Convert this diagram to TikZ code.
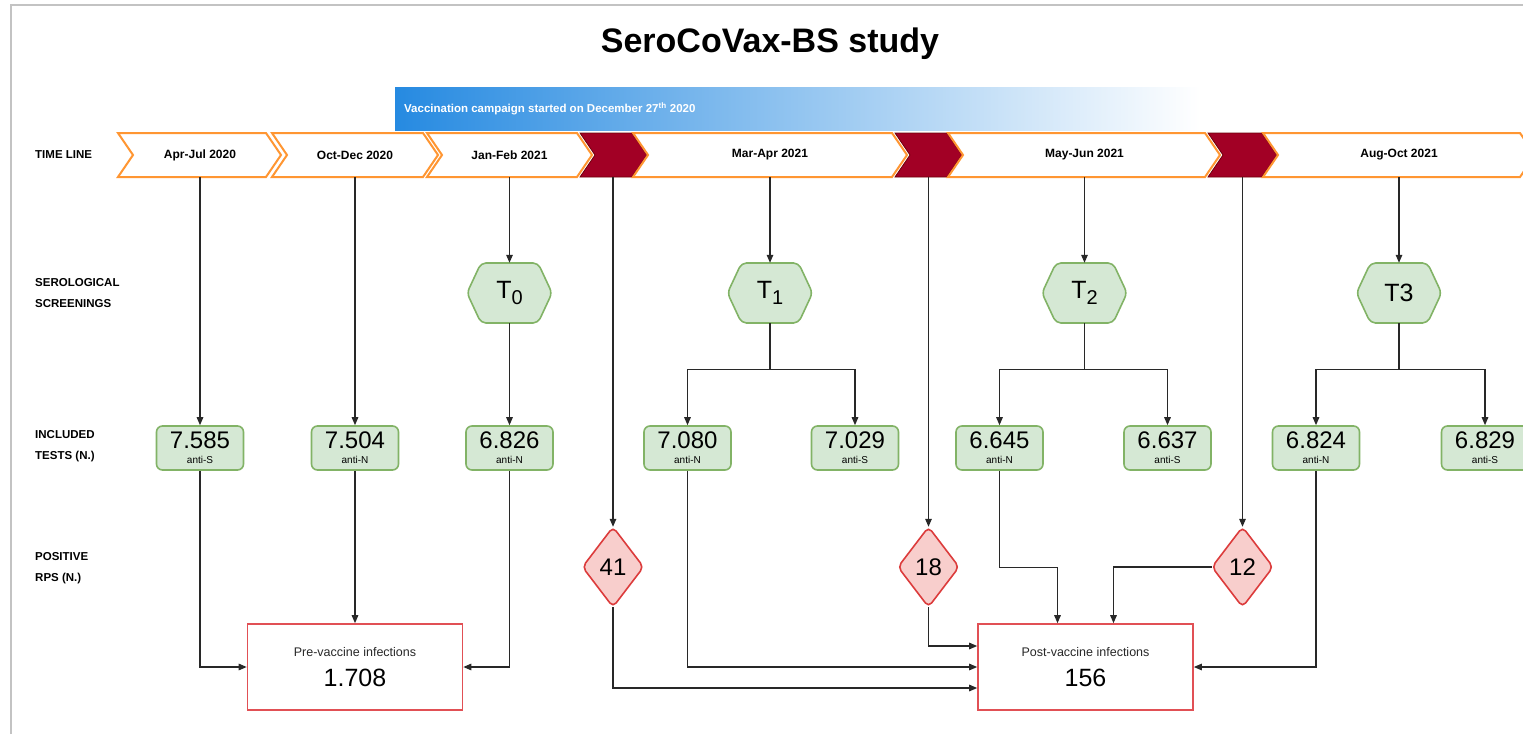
\documentclass[tikz,border=0pt]{standalone}
\usepackage{fontspec}
\setmainfont{Liberation Sans}
\usetikzlibrary{arrows.meta,calc}
\definecolor{chevor}{RGB}{255,150,50}
\definecolor{dred}{RGB}{162,0,37}
\definecolor{dredline}{RGB}{110,0,10}
\definecolor{gfill}{RGB}{213,232,212}
\definecolor{gline}{RGB}{130,179,102}
\definecolor{rfill}{RGB}{248,206,204}
\definecolor{rline}{RGB}{220,60,60}
\definecolor{bline}{RGB}{225,80,85}
\definecolor{banblue}{RGB}{38,138,225}
\definecolor{ink}{RGB}{40,40,40}
\definecolor{framegray}{RGB}{195,195,195}
\newcommand\chevpath[3]{\filldraw[#3] (#1,133) -- (#2,133) -- (#2+15,155) -- (#2,177) -- (#1,177) -- (#1+15,155) -- cycle;}
\newcommand\hexpath[2]{\filldraw[hexdraw] (#1-42.5,#2) -- (#1-28.5,#2-30) -- (#1+28.5,#2-30) -- (#1+42.5,#2) -- (#1+28.5,#2+30) -- (#1-28.5,#2+30) -- cycle;}
\newcommand\diapath[2]{\filldraw[diadraw] (#1,#2-40) -- (#1+30.5,#2) -- (#1,#2+40) -- (#1-30.5,#2) -- cycle;}
\tikzset{
  chevwhite/.style={fill=white, draw=chevor, line width=2pt, line join=miter},
  chevred/.style={fill=dred, draw=dredline, line width=0.8pt},
  chevtext/.style={minimum height=44pt, minimum width=10pt, inner sep=0pt, font=\bfseries\fontsize{12}{12}\selectfont},
  lab/.style={anchor=west, align=left, inner sep=0pt, font=\bfseries\fontsize{11.5}{21}\selectfont},
  testbox/.style={draw=gline, fill=gfill, line width=1.6pt, rounded corners=6pt, minimum width=87pt, minimum height=44pt, inner sep=0pt, align=center, font=\fontsize{10}{15}\selectfont},
  hexdraw/.style={draw=gline, fill=gfill, line width=1.6pt, rounded corners=5pt},
  hexnode/.style={minimum width=85pt, minimum height=60pt, inner sep=0pt, font=\fontsize{25}{25}\selectfont},
  diadraw/.style={draw=rline, fill=rfill, line width=1.6pt, rounded corners=5pt},
  dianode/.style={minimum width=61pt, minimum height=80pt, inner sep=0pt, font=\fontsize{24}{24}\selectfont},
  resbox/.style={draw=bline, fill=white, line width=1.6pt, minimum width=215pt, minimum height=86pt, inner sep=0pt, align=center, font=\fontsize{12.5}{30}\selectfont, text=ink},
  arr/.style={draw=ink, line width=1.3pt, -{Triangle[length=8pt,width=6.5pt]}},
  ln/.style={draw=ink, line width=1.3pt}
}
\newcommand\tb[2]{{\fontsize{24}{15}\selectfont #1}\\\fontsize{10}{15}\selectfont #2}
\begin{document}
\begin{tikzpicture}[x=1pt,y=-1pt]
\useasboundingbox (0,0) rectangle (1523,734);
\clip (0,0) rectangle (1523,734);
\fill[white] (0,0) rectangle (1523,734);
% frame
\draw[framegray, line width=2.5pt] (11,734) -- (11,5) -- (1530,5);
% title
\node[font=\bfseries\fontsize{34}{34}\selectfont] (title) at (770,44) {SeroCoVax-BS study};
% banner
\shade[left color=banblue, right color=white] (395,87) rectangle (1200,130);
\node[anchor=west, text=white, inner sep=0pt, font=\bfseries\fontsize{11.5}{12}\selectfont] (ban) at (404,109) {Vaccination campaign started on December 27\textsuperscript{th} 2020};
% left labels
\node[lab] (lTL) at (35,155) {TIME LINE};
\node[lab] (lSS) at (35,293) {SEROLOGICAL\\SCREENINGS};
\node[lab] (lIT) at (35,446) {INCLUDED\\TESTS (N.)};
\node[lab] (lPR) at (35,568) {POSITIVE\\RPS (N.)};
% timeline chevrons
\chevpath{118}{266}{chevwhite}
\chevpath{272}{423}{chevwhite}
\chevpath{427}{577}{chevwhite}
\chevpath{580}{632}{chevred}
\chevpath{633}{892}{chevwhite}
\chevpath{895}{947}{chevred}
\chevpath{948}{1205}{chevwhite}
\chevpath{1208}{1262}{chevred}
\chevpath{1263}{1520}{chevwhite}
\node[chevtext] (cA) at (200,155) {Apr-Jul 2020};
\node[chevtext] (cB) at (355,155) {Oct-Dec 2020};
\node[chevtext] (cC) at (509.5,155) {Jan-Feb 2021};
\node[chevtext] (rA) at (613,155) {};
\node[chevtext] (cD) at (770,155) {Mar-Apr 2021};
\node[chevtext] (rB) at (928.5,155) {};
\node[chevtext] (cE) at (1084.5,155) {May-Jun 2021};
\node[chevtext] (rC) at (1242.5,155) {};
\node[chevtext] (cF) at (1399,155) {Aug-Oct 2021};
% hexagons
\hexpath{509.5}{293}
\hexpath{770}{293}
\hexpath{1084.5}{293}
\hexpath{1399}{293}
\node[hexnode] (T0) at (509.5,293) {T\raisebox{-6pt}{\fontsize{20}{20}\selectfont 0}};
\node[hexnode] (T1) at (770,293) {T\raisebox{-6pt}{\fontsize{20}{20}\selectfont 1}};
\node[hexnode] (T2) at (1084.5,293) {T\raisebox{-6pt}{\fontsize{20}{20}\selectfont 2}};
\node[hexnode] (T3) at (1399,293) {T3};
% test boxes
\node[testbox] (tA) at (200,448) {\tb{7.585}{anti-S}};
\node[testbox] (tB) at (355,448) {\tb{7.504}{anti-N}};
\node[testbox] (tC) at (509.5,448) {\tb{6.826}{anti-N}};
\node[testbox] (t1a) at (687.5,448) {\tb{7.080}{anti-N}};
\node[testbox] (t1b) at (855,448) {\tb{7.029}{anti-S}};
\node[testbox] (t2a) at (999.5,448) {\tb{6.645}{anti-N}};
\node[testbox] (t2b) at (1167.5,448) {\tb{6.637}{anti-S}};
\node[testbox] (t3a) at (1316,448) {\tb{6.824}{anti-N}};
\node[testbox] (t3b) at (1485,448) {\tb{6.829}{anti-S}};
% diamonds
\diapath{613}{567}
\diapath{928.5}{567}
\diapath{1242.5}{567}
\node[dianode] (dA) at (613,567) {41};
\node[dianode] (dB) at (928.5,567) {18};
\node[dianode] (dC) at (1242.5,567) {12};
% result boxes
\node[resbox] (pre) at (355,667) {Pre-vaccine infections\\\fontsize{25}{30}\selectfont\color{black}1.708};
\node[resbox] (post) at (1085.5,667) {Post-vaccine infections\\\fontsize{25}{30}\selectfont\color{black}156};
% connectors: pre-vaccine
\draw[arr] (cA.south) -- (tA.north);
\draw[arr] (tA.south) |- (pre.west);
\draw[arr] (cB.south) -- (tB.north);
\draw[arr] (tB.south) -- (pre.north);
\draw[arr] (cC.south) -- (T0.north);
\draw[arr] (T0.south) -- (tC.north);
\draw[arr] (tC.south) |- (pre.east);
% T1
\draw[arr] (cD.south) -- (T1.north);
\draw[arr] (T1.south) -- ++(0,46) -| (t1a.north);
\draw[arr] (T1.south) -- ++(0,46) -| (t1b.north);
\draw[arr] (t1a.south) |- (post.west);
% T2
\draw[arr] (cE.south) -- (T2.north);
\draw[arr] (T2.south) -- ++(0,46) -| (t2a.north);
\draw[arr] (T2.south) -- ++(0,46) -| (t2b.north);
\draw[arr] (t2a.south) -- ++(0,97) -| ($(post.north)+(-28,0)$);
% T3
\draw[arr] (cF.south) -- (T3.north);
\draw[arr] (T3.south) -- ++(0,46) -| (t3a.north);
\draw[arr] (T3.south) -- ++(0,46) -| (t3b.north);
\draw[arr] (t3a.south) |- (post.east);
% positives
\draw[arr] (rA.south) -- (dA.north);
\draw[arr] (dA.south) |- ($(post.west)+(0,21)$);
\draw[arr] (rB.south) -- (dB.north);
\draw[arr] (dB.south) |- ($(post.west)+(0,-21)$);
\draw[arr] (rC.south) -- (dC.north);
\draw[arr] (dC.west) -| ($(post.north)+(28,0)$);
\end{tikzpicture}
\end{document}
